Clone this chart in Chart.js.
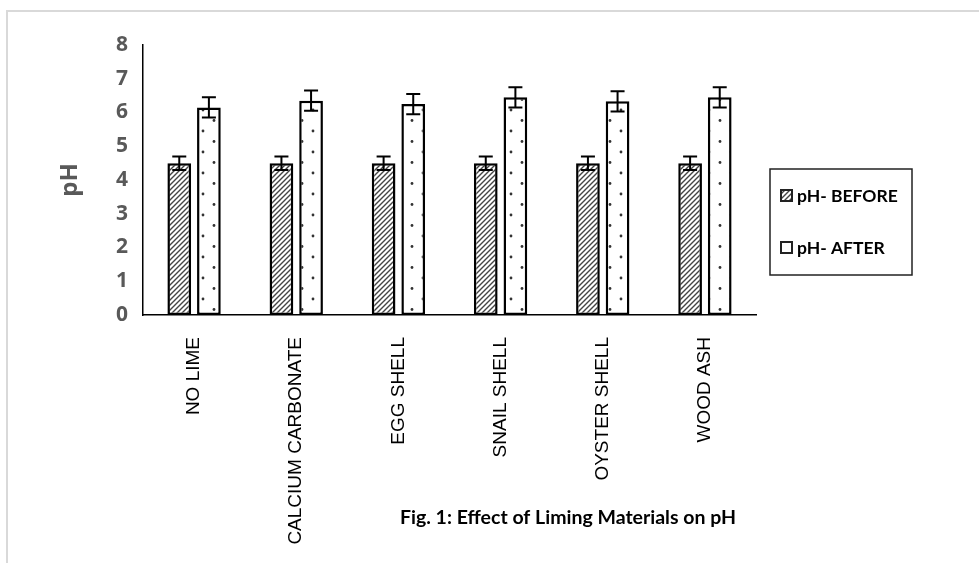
<!DOCTYPE html>
<html>
<head>
<meta charset="utf-8">
<title>Effect of Liming Materials on pH</title>
<script src="https://cdn.jsdelivr.net/npm/chart.js@4.4.1/dist/chart.umd.min.js"></script>
<style>
  body { margin: 0; background: #fff; }
  #wrap { position: relative; width: 979px; height: 563px; }
  #frame { position: absolute; left: 6px; top: 10px; right: 0; bottom: 0;
           border-left: 2px solid #d9d9d9; border-top: 2px solid #d9d9d9; pointer-events: none; }
</style>
</head>
<body>
<div id="wrap">
  <canvas id="chart" width="979" height="563"></canvas>
  <div id="frame"></div>
</div>
<script>
// data
var categories = ["NO LIME", "CALCIUM CARBONATE", "EGG SHELL", "SNAIL SHELL", "OYSTER SHELL", "WOOD ASH"];
var phBefore = [4.5, 4.5, 4.5, 4.5, 4.5, 4.5];
var phAfter = [6.15, 6.35, 6.25, 6.45, 6.33, 6.45];
var errBefore = [0.2, 0.2, 0.2, 0.2, 0.2, 0.2];
var errAfter = [0.3, 0.3, 0.3, 0.3, 0.3, 0.3];
var seriesNames = ["pH- BEFORE", "pH- AFTER"];
var yTicks = [0, 1, 2, 3, 4, 5, 6, 7, 8];
var figTitle = "Fig. 1: Effect of Liming Materials on pH";

function hatchPattern() {
  var c = document.createElement("canvas");
  c.width = 5; c.height = 5;
  var g = c.getContext("2d");
  g.fillStyle = "#fff";
  g.fillRect(0, 0, 5, 5);
  g.strokeStyle = "#444";
  g.lineWidth = 1.4;
  g.beginPath();
  g.moveTo(-1, 6); g.lineTo(6, -1);
  g.moveTo(-1, 1); g.lineTo(1, -1);
  g.moveTo(4, 6); g.lineTo(6, 4);
  g.stroke();
  return g.createPattern(c, "repeat");
}

function dotPattern() {
  var c = document.createElement("canvas");
  c.width = 22; c.height = 21;
  var g = c.getContext("2d");
  g.fillStyle = "#fff";
  g.fillRect(0, 0, 22, 21);
  g.fillStyle = "#333";
  g.beginPath(); g.arc(5, 5, 1.4, 0, Math.PI * 2); g.fill();
  g.beginPath(); g.arc(16, 15.5, 1.4, 0, Math.PI * 2); g.fill();
  return g.createPattern(c, "repeat");
}

var hatch = hatchPattern();
var dots = dotPattern();
var errors = [errBefore, errAfter];
var legendFill = [hatch, "#fff"];

var errorBars = {
  id: "errorBars",
  afterDatasetsDraw: function (chart) {
    var ctx = chart.ctx;
    var y = chart.scales.y;
    ctx.save();
    ctx.strokeStyle = "#000";
    ctx.lineWidth = 2;
    chart.data.datasets.forEach(function (ds, i) {
      chart.getDatasetMeta(i).data.forEach(function (bar, j) {
        var v = ds.data[j];
        var e = errors[i][j];
        var top = y.getPixelForValue(v + e);
        var bot = y.getPixelForValue(v - e);
        ctx.beginPath();
        ctx.moveTo(bar.x, top); ctx.lineTo(bar.x, bot);
        ctx.moveTo(bar.x - 7, top); ctx.lineTo(bar.x + 7, top);
        ctx.moveTo(bar.x - 7, bot); ctx.lineTo(bar.x + 7, bot);
        ctx.stroke();
      });
    });
    ctx.restore();
  }
};

var boxLegend = {
  id: "boxLegend",
  afterDraw: function (chart) {
    var ctx = chart.ctx;
    var area = chart.chartArea;
    var lx = area.right + 14, ly = 169;
    ctx.save();
    ctx.strokeStyle = "#222";
    ctx.lineWidth = 1.5;
    ctx.strokeRect(lx, ly, 142, 106);
    ctx.font = "bold 17.5px Lato, 'Open Sans', sans-serif";
    ctx.textBaseline = "middle";
    chart.data.datasets.forEach(function (ds, i) {
      var cy = ly + 27 + i * 52;
      ctx.fillStyle = legendFill[i];
      ctx.fillRect(lx + 11, cy - 6, 11, 11);
      ctx.lineWidth = 2;
      ctx.strokeRect(lx + 11, cy - 6, 11, 11);
      ctx.fillStyle = "#000";
      ctx.fillText(ds.label, lx + 27, cy);
    });
    // caption under the plot
    ctx.font = "bold 19.5px Lato, 'Open Sans', sans-serif";
    ctx.textAlign = "center";
    ctx.fillText(figTitle, area.left + 425, 518);
    ctx.restore();
  }
};

new Chart(document.getElementById("chart"), {
  type: "bar",
  data: {
    labels: categories,
    datasets: [
      { label: seriesNames[0], data: phBefore, backgroundColor: hatch, borderColor: "#000", borderWidth: 2.5, borderSkipped: false },
      { label: seriesNames[1], data: phAfter, backgroundColor: dots, borderColor: "#000", borderWidth: 2.5, borderSkipped: false }
    ]
  },
  options: {
    responsive: false,
    animation: false,
    layout: { padding: { left: 56, top: 45, right: 223, bottom: 0 } },
    datasets: { bar: { categoryPercentage: 0.58, barPercentage: 0.8 } },
    plugins: {
      legend: { display: false },
      tooltip: { enabled: false }
    },
    scales: {
      x: {
        grid: { display: false, drawTicks: false },
        border: { color: "#000", width: 1.5 },
        ticks: {
          color: "#000",
          font: { family: "'Liberation Sans', Arial, sans-serif", size: 19 },
          minRotation: 90, maxRotation: 90,
          padding: 22,
          autoSkip: false
        },
        afterFit: function (s) { s.height = 248; }
      },
      y: {
        min: 0, max: 8,
        afterBuildTicks: function (s) { s.ticks = yTicks.map(function (v) { return { value: v }; }); },
        grid: { display: false, drawTicks: false },
        border: { color: "#000", width: 1.5 },
        ticks: {
          color: "#595959",
          font: { family: "'Open Sans', Lato, sans-serif", size: 21, weight: "bold" },
          padding: 15
        },
        title: {
          display: true,
          text: "pH",
          color: "#595959",
          font: { family: "'Open Sans', Lato, sans-serif", size: 24, weight: "bold" },
          padding: 0
        },
        afterFit: function (s) { s.width = 87; }
      }
    }
  },
  plugins: [errorBars, boxLegend]
});
</script>
</body>
</html>
